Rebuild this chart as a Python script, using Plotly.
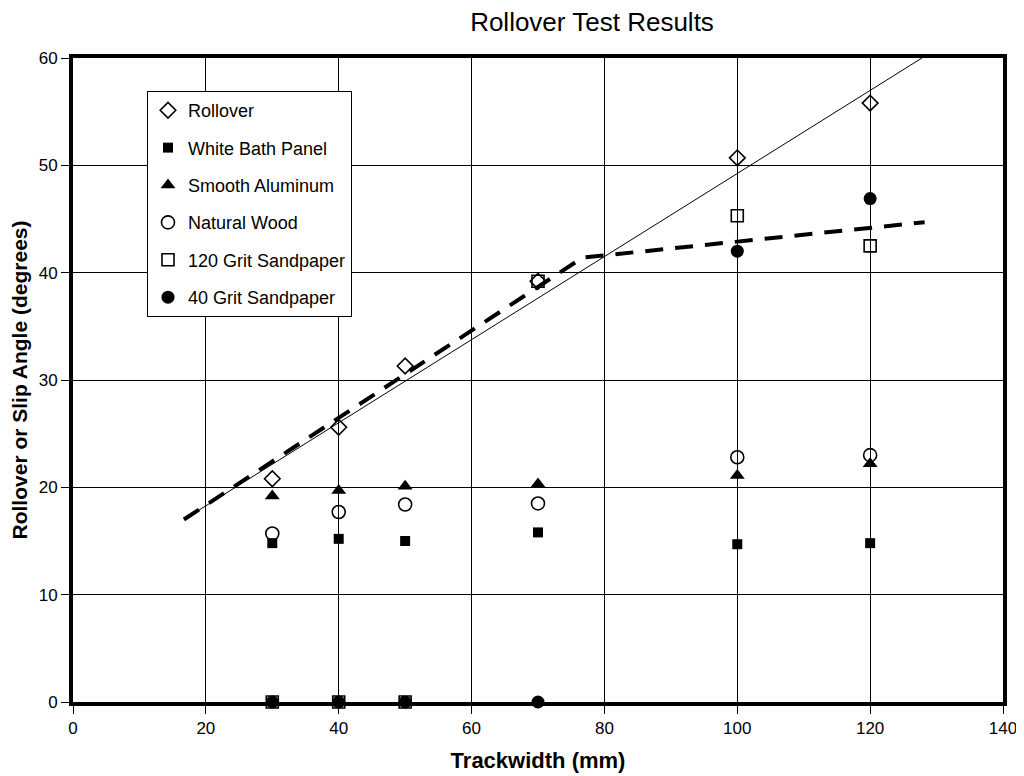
import plotly.graph_objects as go

# ---- data ----
trackwidth = [30, 40, 50, 70, 100, 120]
rollover = [20.8, 25.6, 31.3, 39.2, 50.7, 55.8]
white_bath = [14.8, 15.2, 15.0, 15.8, 14.7, 14.8]
smooth_al = [19.2, 19.7, 20.1, 20.3, 21.1, 22.2]
natural_wood = [15.7, 17.7, 18.4, 18.5, 22.8, 23.0]
grit120 = [0, 0, 0, 39.2, 45.3, 42.5]
grit40 = [0, 0, 0, 0, 42.0, 46.9]

# trend line (thin solid) and model line (thick dashed), endpoints
trend_x = [16.7, 127.8]
trend_y = [17.0, 60.0]
model_x = [16.7, 76.7, 128.2]
model_y = [17.0, 41.4, 44.7]

x_ticks = [0, 20, 40, 60, 80, 100, 120, 140]
y_ticks = [0, 10, 20, 30, 40, 50, 60]

FONT = "Liberation Sans, Arial, sans-serif"
W, H = 1016, 768  # page body has an 8px margin

fig = go.Figure()

fig.add_trace(go.Scatter(x=trend_x, y=trend_y, mode="lines",
                         line=dict(color="black", width=1),
                         showlegend=False, hoverinfo="skip"))
fig.add_trace(go.Scatter(x=model_x, y=model_y, mode="lines",
                         line=dict(color="black", width=4, dash="18px,12px"),
                         showlegend=False, hoverinfo="skip"))

series = [
    ("Rollover", rollover, dict(symbol="diamond-open", size=12, color="black",
                                line=dict(color="black", width=1.6))),
    ("White Bath Panel", white_bath, dict(symbol="square", size=10, color="black")),
    ("Smooth Aluminum", smooth_al, dict(symbol="triangle-up", size=13, color="black")),
    ("Natural Wood", natural_wood, dict(symbol="circle-open", size=13, color="black",
                                        line=dict(color="black", width=1.6))),
    ("120 Grit Sandpaper", grit120, dict(symbol="square-open", size=12, color="black",
                                         line=dict(color="black", width=1.6))),
    ("40 Grit Sandpaper", grit40, dict(symbol="circle", size=13, color="black")),
]
for name, ys, mk in series:
    fig.add_trace(go.Scatter(x=trackwidth, y=ys, mode="markers", name=name,
                             legendgroup=name, marker=mk, cliponaxis=False))

axis_common = dict(
    showline=True, linecolor="black", linewidth=4, mirror=True,
    showgrid=True, gridcolor="black", gridwidth=1, automargin=False,
    zeroline=False, ticks="outside", ticklen=8, tickwidth=1, tickcolor="black",
    tickfont=dict(family=FONT, size=17, color="black"),
)

fig.update_layout(
    width=W, height=H,
    margin=dict(l=65, r=21, t=50, b=74),
    paper_bgcolor="white", plot_bgcolor="white",
    title=dict(text="Rollover Test Results", x=(592 - 8) / W, xanchor="center",
               y=1 - 14 / H, yanchor="middle",
               font=dict(family=FONT, size=26, color="black")),
    xaxis=dict(range=[0, 140], tickvals=x_ticks,
               title=dict(text="<b>Trackwidth (mm)</b>", standoff=16,
                          font=dict(family=FONT, size=22, color="black")),
               **axis_common),
    yaxis=dict(range=[0, 60], tickvals=y_ticks,
               title=dict(text="<b>Rollover or Slip Angle (degrees)</b>", standoff=9,
                          font=dict(family=FONT, size=21, color="black")),
               **axis_common),
    legend=dict(x=(147 - 73) / 930, y=(702 - 91) / 644, xanchor="left", yanchor="top",
                bgcolor="white", bordercolor="black", borderwidth=1,
                font=dict(family=FONT, size=18, color="black"),
                tracegroupgap=11, traceorder="grouped"),
    showlegend=True,
)

fig.write_html("out.html")
